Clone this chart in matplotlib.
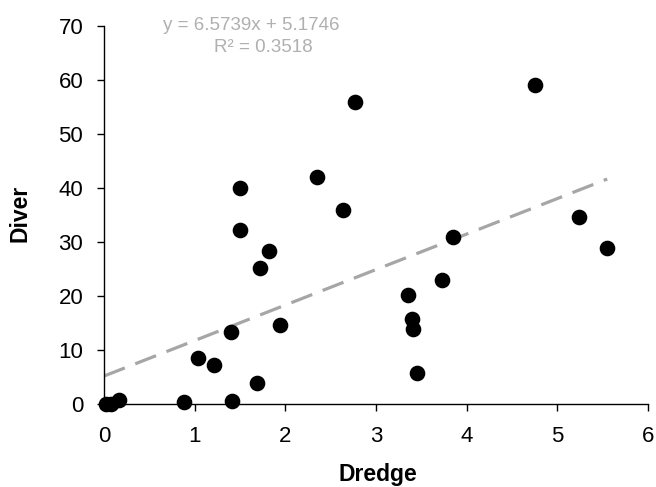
import matplotlib
matplotlib.use("Agg")
import matplotlib.pyplot as plt
import numpy as np

plt.rcParams['font.family'] = ['Liberation Sans', 'DejaVu Sans']

# Dredge vs Diver counts
dredge = [0.02, 0.08, 0.16, 0.88, 1.04, 1.21, 1.40, 1.41, 1.50, 1.50,
          1.69, 1.72, 1.82, 1.94, 2.35, 2.64, 2.77, 3.35, 3.40, 3.41,
          3.45, 3.73, 3.85, 4.75, 5.24, 5.55]
diver = [0.0, 0.0, 0.7, 0.4, 8.6, 7.3, 13.4, 0.6, 40.0, 32.3,
         3.9, 25.1, 28.4, 14.6, 42.1, 36.0, 56.0, 20.1, 15.8, 13.9,
         5.8, 22.9, 31.0, 59.0, 34.7, 28.8]

slope = 6.5739
intercept = 5.1746
r2 = 0.3518

fig = plt.figure(figsize=(6.56, 4.87), dpi=100)
left, right = 104, 648
ax = fig.add_axes([left/656, 1 - 404/487, (right-left)/656, (404-26)/487])

ax.scatter(dredge, diver, s=105, color='black', zorder=3, clip_on=False)

xs = np.array([0, max(dredge)])
ax.plot(xs, slope*xs + intercept, color='#a6a6a6', lw=2.3,
        dashes=(7, 3.5), zorder=2)

ax.set_xlim(0, 6)
ax.set_ylim(0, 70)
ax.set_xticks(range(0, 7))
ax.set_yticks(range(0, 71, 10))
for s in ['top', 'right']:
    ax.spines[s].set_visible(False)
for s in ['left', 'bottom']:
    ax.spines[s].set_linewidth(1.0)
ax.tick_params(direction='out', length=5, width=1, labelsize=16)
ax.tick_params(axis='y', pad=10)
ax.tick_params(axis='x', pad=11)

ax.set_xlabel('Dredge', fontsize=16.5, fontweight='bold', va='center')
ax.set_ylabel('Diver', fontsize=16.5, fontweight='bold', va='center')
ax.xaxis.set_label_coords((378-left)/(right-left), (404-475)/378)
ax.yaxis.set_label_coords((20-left)/(right-left), (404-213)/378)

ax.text(251/656, 1 - 25/487, 'y = %.4fx + %.4f' % (slope, intercept),
        transform=fig.transFigure, ha='center', va='center',
        fontsize=13.5, color='#b0b0b0')
ax.text(263/656, 1 - 48/487, 'R² = %.4f' % r2,
        transform=fig.transFigure, ha='center', va='center',
        fontsize=13.5, color='#b0b0b0')

fig.savefig('out.png', dpi=100)
